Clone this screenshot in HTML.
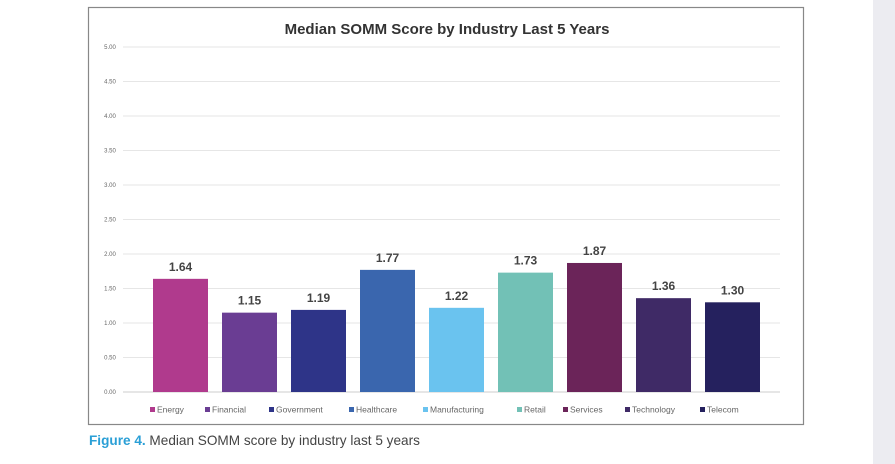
<!DOCTYPE html>
<html><head><meta charset="utf-8"><style>
body{margin:0;width:895px;height:464px;background:#fff;position:relative;overflow:hidden;font-family:"Liberation Sans",sans-serif}
#panel{position:absolute;left:873px;top:0;width:22px;height:464px;background:#ececf1}
#cap{position:absolute;left:89px;top:433px;font-size:13.6px;color:#444}
#cap b{color:#2a9fd6;font-weight:bold}
</style></head><body>
<div id="panel"></div>
<svg id="chart" width="895" height="430" style="position:absolute;left:0;top:0">
<rect x="88.5" y="7.5" width="715" height="417" fill="#fff" stroke="#888" stroke-width="1.2"/>
<text x="447" y="34" text-anchor="middle" font-size="15" font-weight="bold" fill="#333" font-family="Liberation Sans, sans-serif">Median SOMM Score by Industry Last 5 Years</text>
<g id="grid"></g><g id="bars"></g><g id="legend"></g>
</svg>
<div id="cap"><b>Figure 4.</b> Median SOMM score by industry last 5 years</div>
<script>
const categories=["Energy","Financial","Government","Healthcare","Manufacturing","Retail","Services","Technology","Telecom"];
const values=[1.64,1.15,1.19,1.77,1.22,1.73,1.87,1.36,1.30];
const colors=["#b03a8d","#6a3d93","#2e3488","#3a66ae","#6ac3ef","#72c1b6","#6b2459","#3f2a66","#25215e"];
const ticks=[0,0.5,1,1.5,2,2.5,3,3.5,4,4.5,5];
const NS="http://www.w3.org/2000/svg";
const y=v=>392-v*69;
const xBand=i=>146+i*69;
function mk(t,a,p){const e=document.createElementNS(NS,t);for(const k in a)e.setAttribute(k,a[k]);p.appendChild(e);return e;}
const grid=document.getElementById('grid');
ticks.forEach(t=>{
 const l=mk('line',{x1:123,x2:780,y1:y(t),y2:y(t),stroke:t===0?'#ccc':'#e6e6e6','stroke-width':1},grid);
 
 
 const tx=mk('text',{x:110,y:y(t)+2,'text-anchor':'middle','font-size':6,fill:'#666'},grid);
 tx.textContent=t.toFixed(2);
 
 
});
const bars=document.getElementById('bars');
values.forEach((v,i)=>{
 const r=mk('rect',{x:xBand(i)+7,y:y(v),width:55,height:y(0)-y(v),fill:colors[i]},bars);
 
 
 const t=mk('text',{x:xBand(i)+34.5,y:y(v)-8,'text-anchor':'middle','font-size':12,'font-weight':'bold',fill:'#444'},bars);
 t.textContent=v.toFixed(2);
 
 
});
const leg=document.getElementById('legend');
const lx=[150,205,269,349,423,517,563,625,700];
categories.forEach((c,i)=>{
 const g=mk('g',{},leg);
 
 
 mk('rect',{x:lx[i],y:407,width:5,height:5,fill:colors[i]},g);
 const t=mk('text',{x:lx[i]+7,y:412.5,'font-size':8.5,fill:'#666'},g);
 t.textContent=c;
});
</script>
</body></html>
